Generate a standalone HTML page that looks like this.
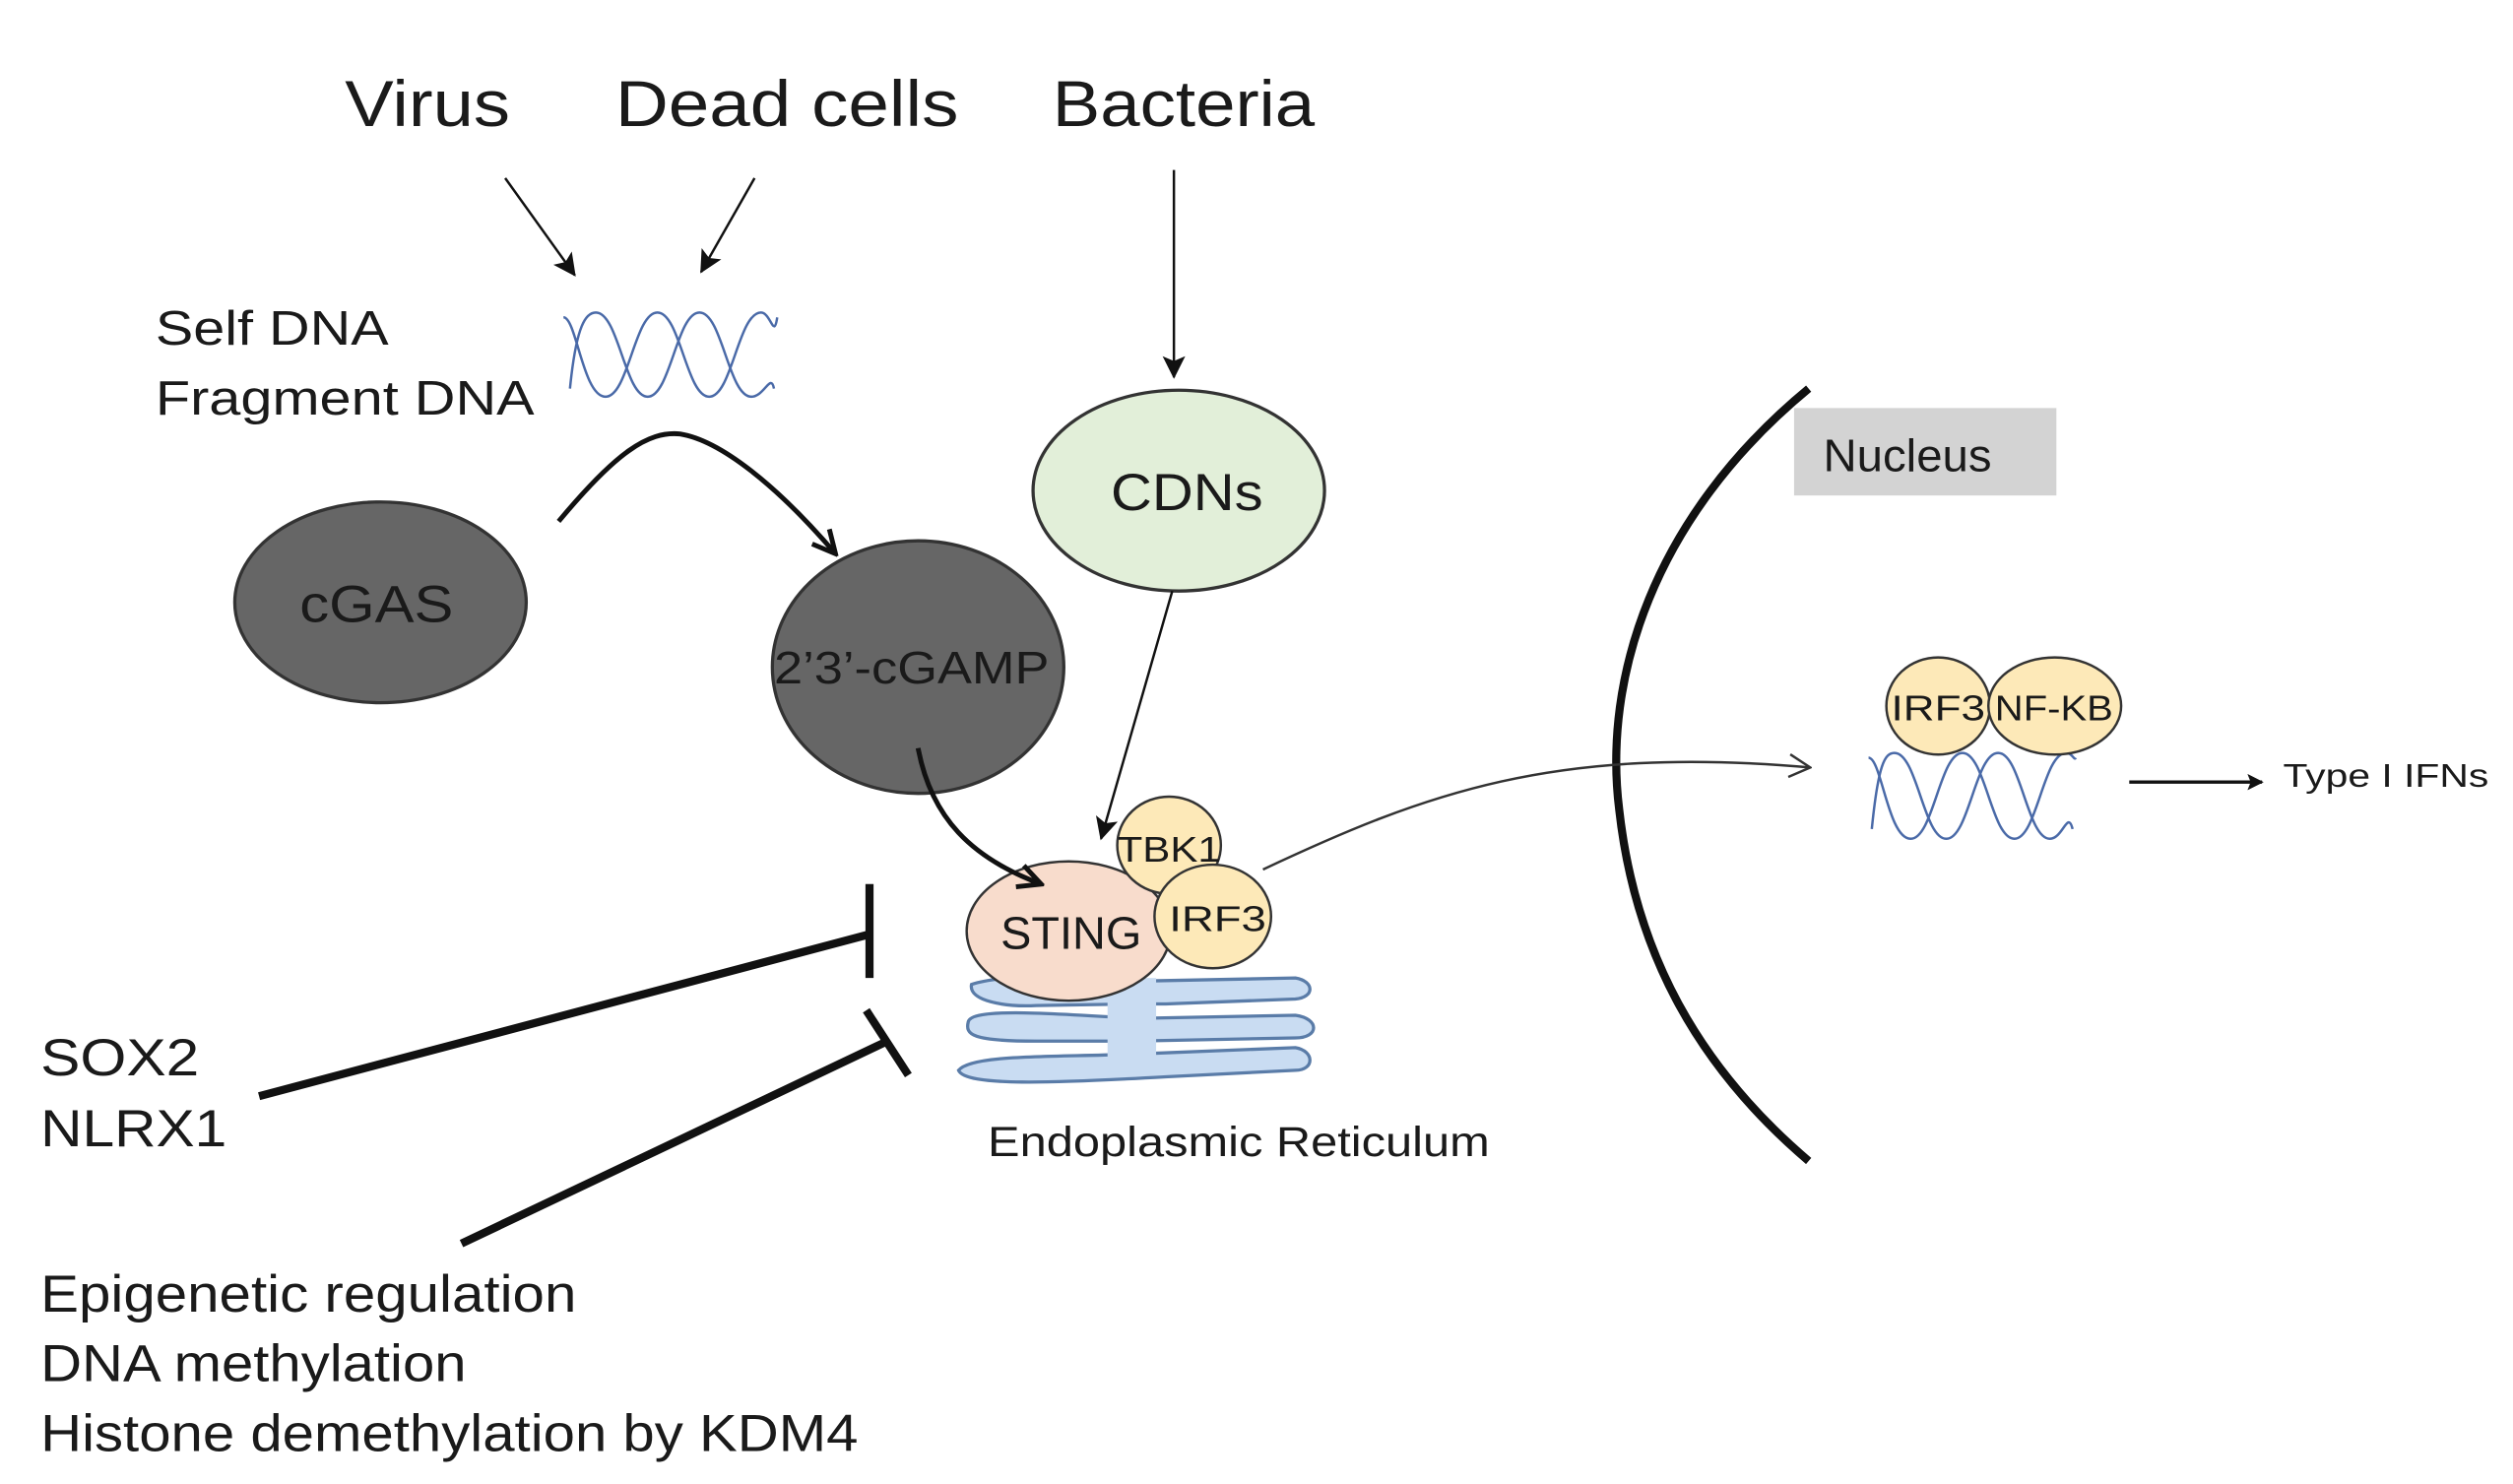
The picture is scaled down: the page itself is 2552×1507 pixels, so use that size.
<!DOCTYPE html>
<html><head><meta charset="utf-8"><style>html,body{margin:0;padding:0;background:#fff}svg{display:block}text{font-family:"Liberation Sans",sans-serif;fill:#1a1a1a}</style></head>
<body>
<svg width="2552" height="1507" viewBox="0 0 1552 916.5" preserveAspectRatio="none" xmlns="http://www.w3.org/2000/svg" font-family="Liberation Sans, sans-serif">
<defs>
<marker id="ah" markerWidth="10" markerHeight="10" refX="9" refY="5" orient="auto" markerUnits="userSpaceOnUse"><path d="M0,0 L10,5 L0,10 L2,5 Z" fill="#111"/></marker>
<marker id="ahs" markerWidth="14" markerHeight="14" refX="13" refY="7" orient="auto" markerUnits="userSpaceOnUse"><path d="M0,0 L14,7 L0,14 L3,7 Z" fill="#111"/></marker>
<marker id="open" markerWidth="16" markerHeight="16" refX="15" refY="8" orient="auto" markerUnits="userSpaceOnUse"><path d="M2,1 L15,8 L2,15" fill="none" stroke="#333" stroke-width="1.5"/></marker>
<marker id="open2" markerWidth="18" markerHeight="18" refX="16" refY="9" orient="auto" markerUnits="userSpaceOnUse"><path d="M2,2 L16,9 L2,16" fill="none" stroke="#111" stroke-width="3"/></marker>
</defs>

<text x="213" y="78" font-size="40" textLength="102" lengthAdjust="spacingAndGlyphs">Virus</text>
<text x="380" y="78" font-size="40" textLength="212" lengthAdjust="spacingAndGlyphs">Dead cells</text>
<text x="650" y="78" font-size="40" textLength="162" lengthAdjust="spacingAndGlyphs">Bacteria</text>

<line x1="312" y1="110" x2="355" y2="170" stroke="#111" stroke-width="1.5" marker-end="url(#ahs)"/>
<line x1="466" y1="110" x2="433" y2="168" stroke="#111" stroke-width="1.5" marker-end="url(#ahs)"/>
<line x1="725" y1="105" x2="725" y2="233" stroke="#111" stroke-width="1.5" marker-end="url(#ahs)"/>

<g fill="none" stroke="#4a6aa8" stroke-width="1.5">
<path d="M348,196 C356,196 360,245 374,245 C388,245 392,193 406,193 C420,193 424,245 438,245 C452,245 456,193 470,193 C476,193 478,210 480,196"/>
<path d="M352,240 C356,200 362,193 368,193 C382,193 386,245 400,245 C414,245 418,193 432,193 C446,193 450,245 464,245 C472,245 476,230 478,240"/>
</g>

<text x="96" y="213" font-size="30" textLength="144" lengthAdjust="spacingAndGlyphs">Self DNA</text>
<text x="96" y="256" font-size="30" textLength="234" lengthAdjust="spacingAndGlyphs">Fragment DNA</text>

<path d="M345,322 C380,280 400,266 420,268 C445,272 480,300 516,342" fill="none" stroke="#111" stroke-width="3" marker-end="url(#open2)"/>

<ellipse cx="235" cy="372" rx="90" ry="62" fill="#666" stroke="#333" stroke-width="2"/>
<text x="185" y="384" font-size="32" textLength="95" lengthAdjust="spacingAndGlyphs">cGAS</text>

<ellipse cx="728" cy="303" rx="90" ry="62" fill="#e2efd9" stroke="#333" stroke-width="2"/>
<text x="686" y="315" font-size="32" textLength="94" lengthAdjust="spacingAndGlyphs">CDNs</text>

<ellipse cx="567" cy="412" rx="90" ry="78" fill="#666" stroke="#333" stroke-width="2"/>
<text x="478" y="422" font-size="28" textLength="170" lengthAdjust="spacingAndGlyphs">2’3’-cGAMP</text>

<!-- ER -->
<g stroke="#5a7ca8" stroke-width="2" fill="#c9dcf2">
<path d="M600,608 C620,601 680,602 700,606 L800,604 C812,606 812,616 800,617 L720,620 L700,620 L640,621 C620,622 598,618 600,608Z"/>
<path d="M598,631 C600,623 640,625 700,629 L800,627 C815,629 815,641 800,641 L700,643 L640,643 C600,643 596,639 598,631Z"/>
<path d="M592,661 C600,651 650,653 700,651 L800,647 C812,649 812,661 800,661 L720,665 C650,669 596,671 592,661Z"/>
</g>
<rect x="684" y="604" width="30" height="58" fill="#c9dcf2"/>

<ellipse cx="660" cy="575" rx="63" ry="43" fill="#f8dccc" stroke="#333" stroke-width="1.5"/>
<text x="618" y="586" font-size="28" textLength="87" lengthAdjust="spacingAndGlyphs">STING</text>
<ellipse cx="722" cy="522" rx="32" ry="30" fill="#fde9b8" stroke="#333" stroke-width="1.5"/>
<text x="690" y="532" font-size="22" textLength="64" lengthAdjust="spacingAndGlyphs">TBK1</text>
<ellipse cx="749" cy="566" rx="36" ry="32" fill="#fde9b8" stroke="#333" stroke-width="1.5"/>
<text x="722" y="575" font-size="22" textLength="60" lengthAdjust="spacingAndGlyphs">IRF3</text>

<line x1="724" y1="365" x2="680" y2="518" stroke="#111" stroke-width="1.5" marker-end="url(#ahs)"/>
<path d="M567,462 C575,505 600,530 643,546" fill="none" stroke="#111" stroke-width="3" marker-end="url(#open2)"/>

<text x="610" y="714" font-size="26" textLength="310" lengthAdjust="spacingAndGlyphs">Endoplasmic Reticulum</text>

<!-- inhibition -->
<line x1="160" y1="677" x2="537" y2="577" stroke="#111" stroke-width="5"/>
<line x1="537" y1="546" x2="537" y2="604" stroke="#111" stroke-width="5"/>
<line x1="285" y1="768" x2="548" y2="643" stroke="#111" stroke-width="5"/>
<line x1="535" y1="624" x2="561" y2="664" stroke="#111" stroke-width="5"/>

<text x="25" y="664" font-size="32" textLength="98" lengthAdjust="spacingAndGlyphs">SOX2</text>
<text x="25" y="708" font-size="32" textLength="115" lengthAdjust="spacingAndGlyphs">NLRX1</text>
<text x="25" y="810" font-size="32" textLength="331" lengthAdjust="spacingAndGlyphs">Epigenetic regulation</text>
<text x="25" y="853" font-size="32" textLength="263" lengthAdjust="spacingAndGlyphs">DNA methylation</text>
<text x="25" y="896" font-size="32" textLength="505" lengthAdjust="spacingAndGlyphs">Histone demethylation by KDM4</text>

<!-- nucleus -->
<path d="M1117,240 C1020,320 990,420 1000,500 C1010,590 1050,660 1117,717" fill="none" stroke="#111" stroke-width="5"/>
<rect x="1108" y="252" width="162" height="54" fill="#d3d3d3"/>
<text x="1126" y="291" font-size="28" textLength="104" lengthAdjust="spacingAndGlyphs">Nucleus</text>

<path d="M780,537 C880,490 960,460 1118,474" fill="none" stroke="#333" stroke-width="1.5" marker-end="url(#open)"/>

<g fill="none" stroke="#4a6aa8" stroke-width="1.5">
<path d="M1154,468 C1162,468 1166,518 1180,518 C1194,518 1198,465 1212,465 C1226,465 1230,518 1244,518 C1258,518 1262,465 1276,465 C1280,465 1281,470 1282,468"/>
<path d="M1156,512 C1160,472 1164,465 1170,465 C1184,465 1188,518 1202,518 C1216,518 1220,465 1234,465 C1248,465 1252,518 1266,518 C1274,518 1277,500 1280,512"/>
</g>
<ellipse cx="1197" cy="436" rx="32" ry="30" fill="#fde9b8" stroke="#333" stroke-width="1.5"/>
<text x="1168" y="445" font-size="22" textLength="58" lengthAdjust="spacingAndGlyphs">IRF3</text>
<ellipse cx="1269" cy="436" rx="41" ry="30" fill="#fde9b8" stroke="#333" stroke-width="1.5"/>
<text x="1232" y="445" font-size="22" textLength="73" lengthAdjust="spacingAndGlyphs">NF-KB</text>

<line x1="1315" y1="483" x2="1397" y2="483" stroke="#111" stroke-width="2" marker-end="url(#ah)"/>
<text x="1410" y="486" font-size="20" textLength="127" lengthAdjust="spacingAndGlyphs">Type I IFNs</text>
</svg>
</body></html>
